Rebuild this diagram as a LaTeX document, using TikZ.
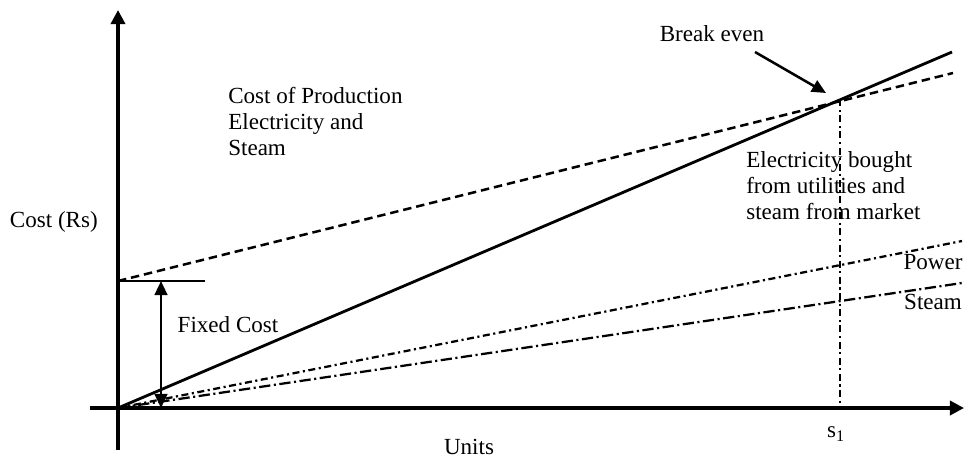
\documentclass[tikz,border=0pt]{standalone}
\usepackage{fontspec}
\setmainfont{Liberation Serif}
\usetikzlibrary{arrows.meta}
\begin{document}
\begin{tikzpicture}[x=0.025cm,y=-0.025cm]
        \tikzstyle{every node}=[inner sep=0pt, font=\fontsize{16.4}{18.6}\selectfont]
        \tikzstyle{axis}=[line width=2.4pt, -{Triangle[length=10pt,width=10pt]}]
        \tikzstyle{pointer}=[line width=1.8pt, -{Triangle[length=10pt,width=9pt]}]
        \tikzstyle{txt}=[align=left, anchor=north west]
        \tikzstyle{total}=[line width=2pt]
        \tikzstyle{bought}=[line width=1.8pt, dash pattern=on 6pt off 3.5pt]
        \tikzstyle{power}=[line width=1.6pt, dash pattern=on 5pt off 2.5pt on 1.5pt off 2.5pt]
        \tikzstyle{steam}=[line width=1.6pt, dash pattern=on 8pt off 2.5pt on 1.5pt off 2.5pt]
        \tikzstyle{drop}=[line width=1.6pt, dash pattern=on 5pt off 2.5pt on 1.5pt off 2.5pt]
        \useasboundingbox (0,0) rectangle (965,461);
        \coordinate (O) at (118,408);
        \coordinate (ytop) at (118,10);
        \coordinate (ybot) at (118,450);
        \coordinate (xleft) at (90,408);
        \coordinate (xright) at (964,408);
        \coordinate (F) at (118,281);
        \coordinate (Fend) at (205,281);
        \coordinate (fa) at (161,281);
        \coordinate (fb) at (161,408);
        \coordinate (totalend) at (952,52);
        \coordinate (boughtend) at (953,73);
        \coordinate (powerend) at (962,241);
        \coordinate (steamend) at (962,283);
        \coordinate (be) at (840,99);
        \coordinate (s1) at (840,408);
        \coordinate (arrowstart) at (755,52);
        \coordinate (arrowend) at (826,93);
        \draw[axis] (ybot) -- (ytop);
        \draw[axis] (xleft) -- (xright);
        \draw[total] (O) -- (totalend);
        \draw[bought] (F) -- (boughtend);
        \draw[power] (O) -- (powerend);
        \draw[steam] (O) -- (steamend);
        \draw[drop] (be) -- (s1);
        \draw[line width=1.8pt] (F) -- (Fend);
        \draw[pointer, {Triangle[length=10pt,width=9pt]}-{Triangle[length=10pt,width=9pt]}] (fa) -- (fb);
        \draw[pointer] (arrowstart) -- (arrowend);
        \node (breakeven) at (712,34) {Break even};
        \node[txt] (production) at (228,87) {Cost of Production\\Electricity and\\Steam};
        \node[txt] (market) at (746,151) {Electricity bought\\from utilities and\\steam from market};
        \node (powerlabel) at (933,262) {Power};
        \node (steamlabel) at (933,302) {Steam};
        \node (fixed) at (228,325) {Fixed Cost};
        \node[anchor=east] (cost) at (98,222) {Cost (Rs)};
        \node (units) at (469,447) {Units};
        \node (slabel) at (836,434) {s\textsubscript{1}};
    \end{tikzpicture}
\end{document}
